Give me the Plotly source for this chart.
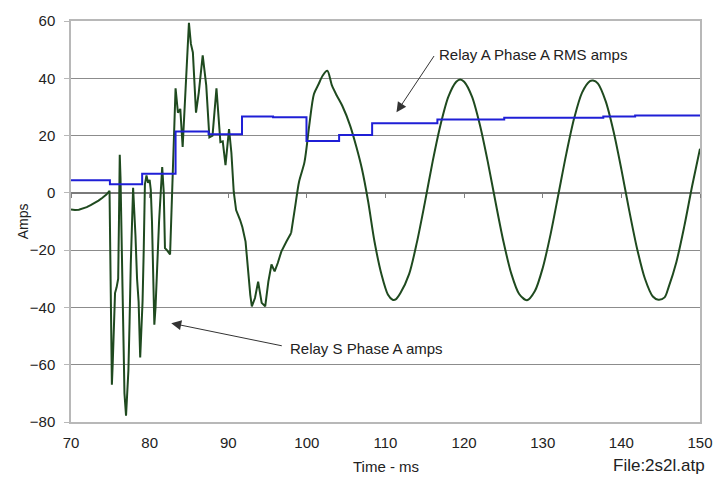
import plotly.graph_objects as go

# ---- data ----
green_t = [70.0, 70.5, 71.0, 71.5, 72.0, 72.5, 73.0, 73.5, 74.0, 74.5, 74.9,
           75.02, 75.1, 75.2, 75.3, 75.45, 75.6, 75.8, 76.0, 76.1, 76.2, 76.3, 76.45, 76.55, 76.7, 76.8,
           77.0, 77.15, 77.3, 77.45, 77.6, 77.9, 78.05, 78.2, 78.4, 78.6, 78.8, 78.95, 79.1, 79.25,
           79.4, 79.6, 79.8, 80.0, 80.15, 80.3, 80.45, 80.6, 80.75, 80.95, 81.2, 81.6, 81.8, 81.95,
           82.2, 82.6, 82.75, 83.0, 83.3, 83.6, 83.9, 84.2, 84.5, 84.75, 85.0, 85.25, 85.5, 85.9,
           86.25, 86.75, 87.2, 87.6, 88.0, 88.5, 89.0, 89.3, 89.65, 90.1, 90.4, 90.7, 91.0, 91.5,
           91.8, 92.2, 92.5, 92.8, 93.0, 93.4, 93.8, 94.25, 94.7, 95.1, 95.5, 95.9, 96.3, 96.75,
           97.4, 98.0, 98.5, 99.0, 99.7, 100.3, 100.9, 101.5, 102.0, 102.6, 103.2, 103.8, 104.5,
           105.5, 106.3, 107.0, 107.8, 108.6, 109.5, 110.3, 110.9, 111.3, 111.9, 113.0, 114.0,
           115.0, 116.0, 117.0, 118.0, 119.0, 119.5, 120.0, 121.0, 122.0, 123.0, 124.0, 125.0,
           126.0, 127.0, 128.0, 129.0, 130.0, 131.0, 132.0, 133.0, 134.0, 135.0, 136.0, 136.4,
           137.0, 138.0, 139.0, 140.0, 141.0, 142.0, 143.0, 144.0, 144.7, 145.5, 146.0, 147.0,
           148.0, 149.0, 150.0]
green_a = [-5.8, -6.0, -5.9, -5.5, -5.0, -4.3, -3.6, -2.7, -1.7, -0.6, 0.7,
           -38.0, -50.0, -67.0, -60.0, -43.0, -35.0, -33.0, -30.0, -10.0, 13.3, 5.0, -30.0, -33.0, -55.0, -70.0,
           -77.8, -70.0, -62.0, -45.0, -25.0, 1.8, -6.0, -15.0, -30.0, -38.0, -57.5, -50.0, -38.0, -20.0,
           3.0, 6.1, 3.5, 4.5, 1.0, -10.0, -35.0, -46.0, -40.0, -25.0, -10.0, 9.0, 0.0, -19.3,
           -20.0, -21.5, -10.0, 15.0, 36.5, 28.0, 29.3, 16.0, 34.0, 50.0, 59.4, 52.0, 49.0, 28.0,
           35.0, 48.0, 37.5, 19.4, 20.0, 36.5, 17.7, 18.0, 9.7, 22.3, 14.0, 0.3, -6.0, -9.4,
           -12.0, -17.0, -27.0, -35.6, -39.6, -36.7, -31.0, -38.4, -39.6, -31.0, -25.0, -27.4, -24.5, -20.5,
           -17.0, -14.0, -5.0, 3.8, 10.8, 23.5, 34.5, 38.0, 40.9, 42.6, 37.4, 34.0, 30.4,
           23.5, 16.0, 8.4, -3.1, -17.0, -28.6, -35.5, -37.3, -37.2, -35.0, -28.4, -17.2,
           -3.5, 11.0, 23.8, 33.6, 38.8, 39.6, 38.8, 33.6, 23.8, 11.0, -3.3, -17.0,
           -28.2, -35.3, -37.5, -34.3, -26.2, -14.4, -0.4, 13.7, 26.1, 35.0, 39.0, 39.2,
           38.2, 32.0, 21.5, 8.2, -6.2, -19.5, -30.0, -36.2, -37.3, -36.5, -33.0, -24.1,
           -11.7, 2.4, 15.4]

blue_t = [70, 74.95, 79.05, 83.3, 87.5, 91.75, 95.7, 99.95, 104.1, 108.3, 116.6, 125.1, 137.7, 141.75, 150]
blue_a = [4.4, 3.0, 6.7, 21.4, 20.5, 26.7, 26.4, 18.1, 20.2, 24.3, 25.6, 26.2, 26.7, 27.0, 27.0]

x_ticks = [70, 80, 90, 100, 110, 120, 130, 140, 150]
y_ticks = [-80, -60, -40, -20, 0, 20, 40, 60]

FONT = "Liberation Sans, Arial, sans-serif"
GREEN = "#1f4a1f"

# transient part drawn straight, steady sine part drawn smooth
split = next(i for i, t in enumerate(green_t) if t >= 98.0)

fig = go.Figure()
fig.add_trace(go.Scatter(x=green_t[:split + 1], y=green_a[:split + 1], mode="lines",
                         line=dict(color=GREEN, width=2), showlegend=False, hoverinfo="skip"))
fig.add_trace(go.Scatter(x=green_t[split:], y=green_a[split:], mode="lines",
                         line=dict(color=GREEN, width=2, shape="spline", smoothing=0.8),
                         showlegend=False, hoverinfo="skip"))
fig.add_trace(go.Scatter(x=blue_t, y=blue_a, mode="lines",
                         line=dict(color="#1f1fd6", width=2, shape="hv"), showlegend=False, hoverinfo="skip"))
# invisible trace so the zero-line tick axis is drawn
fig.add_trace(go.Scatter(x=[70], y=[0], mode="markers", marker=dict(opacity=0),
                         xaxis="x2", showlegend=False, hoverinfo="skip"))

fig.update_layout(
    width=725, height=478,
    margin=dict(l=71, r=14, t=18, b=56),
    paper_bgcolor="white", plot_bgcolor="white",
    font=dict(family=FONT, size=15, color="#222222"),
    xaxis=dict(range=[70, 150], tickvals=x_ticks, showgrid=False, zeroline=False,
               showline=True, linecolor="#b8b8b8", linewidth=1.5, mirror=True,
               ticks="", ticklabelstandoff=6, tickfont=dict(size=15, color="#222")),
    xaxis2=dict(range=[70, 150], tickvals=x_ticks, overlaying="x", anchor="free",
                position=80 / 140, side="bottom", showgrid=False, zeroline=False,
                showline=False, showticklabels=False, ticks="outside", ticklen=4,
                tickcolor="#808080", tickwidth=1),
    yaxis=dict(range=[-80, 60], tickvals=y_ticks, showgrid=True, gridcolor="#8c8c8c", gridwidth=1.3,
               zeroline=True, zerolinecolor="#7a7a7a", zerolinewidth=1.5,
               showline=True, linecolor="#b8b8b8", linewidth=1.5, mirror=True,
               ticks="outside", ticklen=5, tickcolor="#b8b8b8", ticklabelstandoff=6,
               tickfont=dict(size=15, color="#222")),
    annotations=[
        dict(x=116.5, y=48.3, xref="x", yref="y", text="Relay A Phase A RMS amps",
             showarrow=False, xanchor="left", yanchor="middle", font=dict(size=15, color="#222")),
        dict(x=97.6, y=-54.2, xref="x", yref="y", text="Relay S Phase A amps",
             showarrow=False, xanchor="left", yanchor="middle", font=dict(size=15, color="#222")),
        dict(x=111.4, y=28.1, xref="x", yref="y", ax=116.3, ay=48.3, axref="x", ayref="y",
             text="", showarrow=True, arrowhead=2, arrowsize=2, arrowwidth=1, arrowcolor="#333"),
        dict(x=82.75, y=-45.5, xref="x", yref="y", ax=97.0, ay=-53.5, axref="x", ayref="y",
             text="", showarrow=True, arrowhead=2, arrowsize=2, arrowwidth=1, arrowcolor="#333"),
        dict(x=0.5, y=-0.112, xref="paper", yref="paper", text="Time - ms", showarrow=False,
             xanchor="center", yanchor="middle", font=dict(size=15, color="#222")),
        dict(x=-0.0766, y=0.5, xref="paper", yref="paper", text="Amps", showarrow=False,
             textangle=-90, xanchor="center", yanchor="middle", font=dict(size=14, color="#222")),
        dict(x=1.011, y=-0.108, xref="paper", yref="paper", text="File:2s2l.atp", showarrow=False,
             xanchor="right", yanchor="middle", font=dict(size=17, color="#222")),
    ],
)

fig.write_html("out.html", config={"displayModeBar": False},
               post_script="document.body.style.margin='0';document.body.style.overflow='hidden';")
